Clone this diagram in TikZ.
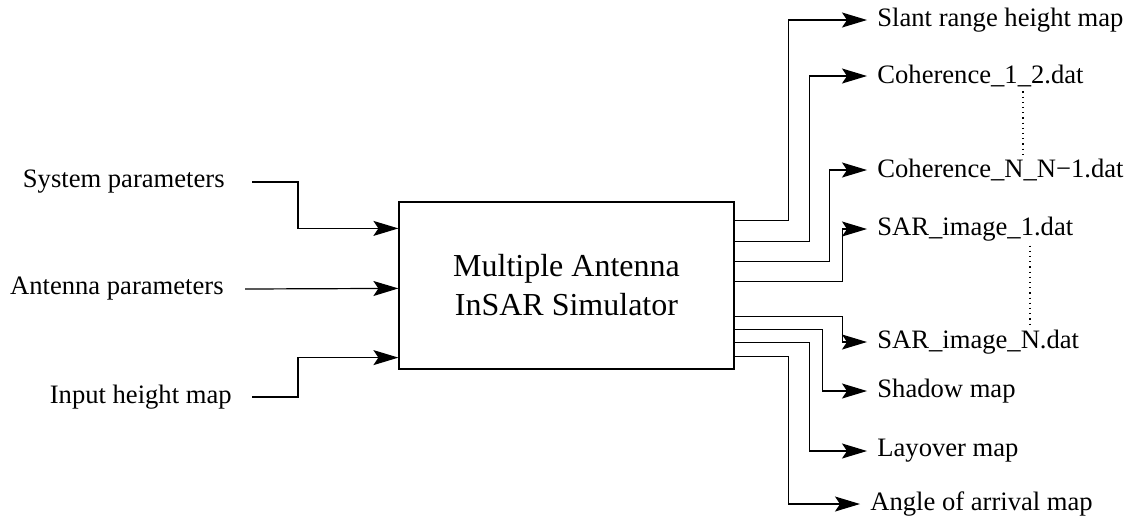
\documentclass[tikz,border=0pt]{standalone}
\usepackage{fontspec}
\setmainfont{Liberation Serif}
\usetikzlibrary{arrows.meta,calc}

\begin{document}
\begin{tikzpicture}[
  x=0.5pt, y=-0.5pt,
  font=\fontsize{13.3}{16}\selectfont,
  sim/.style={draw, line width=0.6pt, minimum width=167.5pt, minimum height=83.5pt, align=center, font=\fontsize{16}{19.5}\selectfont},
  inlab/.style={anchor=east, inner ysep=2pt},
  outlab/.style={anchor=west, inner xsep=5pt, inner ysep=2pt},
  arr/.style={-{Stealth[length=12.5pt, width=7.5pt, inset=2.5pt]}, line width=0.6pt},
  dots/.style={dotted, line width=0.6pt}
]
\useasboundingbox (0,0) rectangle (1129,527);

% ---------------- simulator block ----------------
\node[sim] (sim) at (566.5,285.5) {Multiple Antenna\\InSAR Simulator};

% ---------------- inputs ----------------
\node[inlab, inner xsep=13.5pt] (sys) at (252,182) {System parameters};
\node[inlab, inner xsep=10.5pt] (ant) at (245,289) {Antenna parameters};
\node[inlab, inner xsep=10pt] (hgt) at (252,397) {Input height map};

\draw[arr] (sys.east) -- ++(46,0) |- ($(sim.north west)+(0,27)$);
\draw[arr] (ant.east) -- ($(sim.north west)+(0,87)$);
\draw[arr] (hgt.east) -- ++(46,0) |- ($(sim.south west)+(0,-12)$);

% ---------------- outputs ----------------
\node[outlab] (slant) at (867,20) {Slant range height map};
\node[outlab] (coh1) at (867,76) {Coherence\_1\_2.dat};
\node[outlab] (cohN) at (867,170) {Coherence\_N\_N−1.dat};
\node[outlab] (sar1) at (867,229) {SAR\_image\_1.dat};
\node[outlab] (sarN) at (867,342) {SAR\_image\_N.dat};
\node[outlab] (shadow) at (867,391) {Shadow map};
\node[outlab] (layover) at (867,451) {Layover map};
\node[outlab] (aoa) at (860,504) {Angle of arrival map};

\foreach \n/\dy/\dx in {slant/19/54, coh1/40/75, cohN/60/95, sar1/80/108,
                        sarN/115/108, shadow/128/88, layover/141/75, aoa/155/54}
  \draw[arr] ($(sim.north east)+(0,\dy)$) -- ++(\dx,0) |- (\n.west);

% dotted "..." between numbered files
\coordinate (c1) at (1023,0);
\coordinate (c2) at (1030,0);
\draw[dots] (coh1.south -| c1) -- (cohN.north -| c1);
\draw[dots] (sar1.south -| c2) -- (sarN.north -| c2);

\end{tikzpicture}
\end{document}
